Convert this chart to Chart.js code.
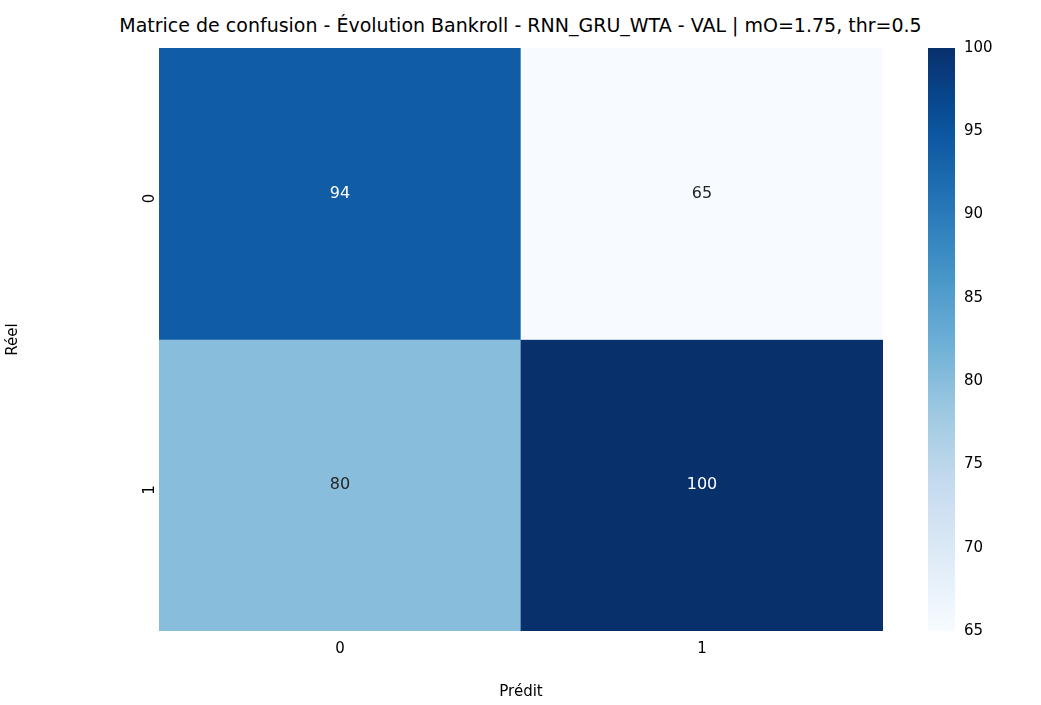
<!DOCTYPE html>
<html><head><meta charset="utf-8">
<script src="https://cdn.jsdelivr.net/npm/chart.js@4"></script>
<style>
body{margin:0;background:#fff;width:1041px;height:705px;overflow:hidden;position:relative;font-family:"DejaVu Sans";}
#title{position:absolute;top:14px;left:0;width:1041px;text-align:center;font-size:19px;color:#000;}
canvas{position:absolute;top:0;}
</style></head><body>
<div id="title">Matrice de confusion - Évolution Bankroll - RNN_GRU_WTA - VAL | mO=1.75, thr=0.5</div>
<canvas id="main" width="883" height="705" style="left:0;width:883px;height:705px"></canvas>
<canvas id="cbar" width="141" height="705" style="left:900px;width:141px;height:705px"></canvas>
<script>
const predLabels = ['0', '1'];
const realLabels = ['0', '1'];
const row0 = [94, 65];
const row1 = [80, 100];
const vmin = 65, vmax = 100;
const cbTicks = [65, 70, 75, 80, 85, 90, 95, 100];

const blues = ['#f7fbff','#deebf7','#c6dbef','#9ecae1','#6baed6','#4292c6','#2171b5','#08519c','#08306b'];
function hex(c){return [1,3,5].map(i=>parseInt(c.substr(i,2),16));}
function blue(v){
  let t=(v-vmin)/(vmax-vmin); t=Math.max(0,Math.min(1,t));
  const p=t*(blues.length-1), i=Math.min(Math.floor(p),blues.length-2), f=p-i;
  const a=hex(blues[i]), b=hex(blues[i+1]);
  return 'rgb('+a.map((x,k)=>Math.round(x+(b[k]-x)*f)).join(',')+')';
}
const rows = [row0, row1];
const font = {family:'DejaVu Sans', size:15};

const cellText = {
  id:'cellText',
  afterDatasetsDraw(chart){
    const ctx=chart.ctx, xs=chart.scales.x, ys=chart.scales.y;
    ctx.save(); ctx.font='16px "DejaVu Sans"'; ctx.textAlign='center'; ctx.textBaseline='middle';
    rows.forEach((r,ri)=>r.forEach((v,ci)=>{
      ctx.fillStyle = (v-vmin)/(vmax-vmin) > 0.5 ? '#ffffff' : '#262626';
      ctx.fillText(String(v), xs.getPixelForValue(ci), ys.getPixelForValue(ri+0.5));
    }));
    ctx.restore();
  }
};

new Chart(document.getElementById('main'), {
  type:'bar',
  data:{labels:predLabels, datasets: rows.map((r,ri)=>({
    data:r.map(()=>[ri,ri+1]), backgroundColor:r.map(blue),
    barPercentage:1, categoryPercentage:1, grouped:false, borderWidth:0
  }))},
  options:{responsive:false, animation:false, devicePixelRatio:1,
    layout:{padding:{top:48,left:0,right:0,bottom:0}},
    plugins:{legend:{display:false},tooltip:{enabled:false}},
    scales:{
      x:{grid:{display:false,drawTicks:true,tickLength:6,tickColor:'#000'},border:{color:'#fff'},
         ticks:{color:'#000',font},
         title:{display:true,text:'Prédit',color:'#000',font,padding:{top:4}},
         afterFit(s){s.height=74;}},
      y:{min:0,max:2,reverse:true,grid:{display:false,tickLength:6,tickColor:'#000'},border:{color:'#fff'},
         afterBuildTicks(s){s.ticks=[{value:0.5},{value:1.5}];},
         ticks:{color:'#000',font,minRotation:90,maxRotation:90,callback:(v)=>realLabels[Math.floor(v)]},
         title:{display:true,text:'Réel',color:'#000',font},
         afterFit(s){s.width=159;}}
    }},
  plugins:[cellText]
});

new Chart(document.getElementById('cbar'), {
  type:'bar',
  data:{labels:['c'], datasets:[{data:[[vmin,vmax]], barPercentage:1, categoryPercentage:1, borderWidth:0,
    backgroundColor(c){
      const a=c.chart.chartArea; if(!a) return '#fff';
      const g=c.chart.ctx.createLinearGradient(0,a.bottom,0,a.top);
      for(let i=0;i<=20;i++) g.addColorStop(i/20, blue(vmin+(vmax-vmin)*i/20));
      return g;
    }}]},
  options:{responsive:false, animation:false, devicePixelRatio:1,
    layout:{padding:{top:48,left:28,right:0,bottom:74}},
    plugins:{legend:{display:false},tooltip:{enabled:false}},
    scales:{
      x:{display:false},
      y:{position:'right',min:vmin,max:vmax,grid:{display:false,tickLength:6,tickColor:'#000'},border:{color:'#fff'},
         afterBuildTicks(s){s.ticks=cbTicks.map(v=>({value:v}));},
         ticks:{color:'#000',font},
         afterFit(s){s.width=86;}}
    }}
});
</script></body></html>
